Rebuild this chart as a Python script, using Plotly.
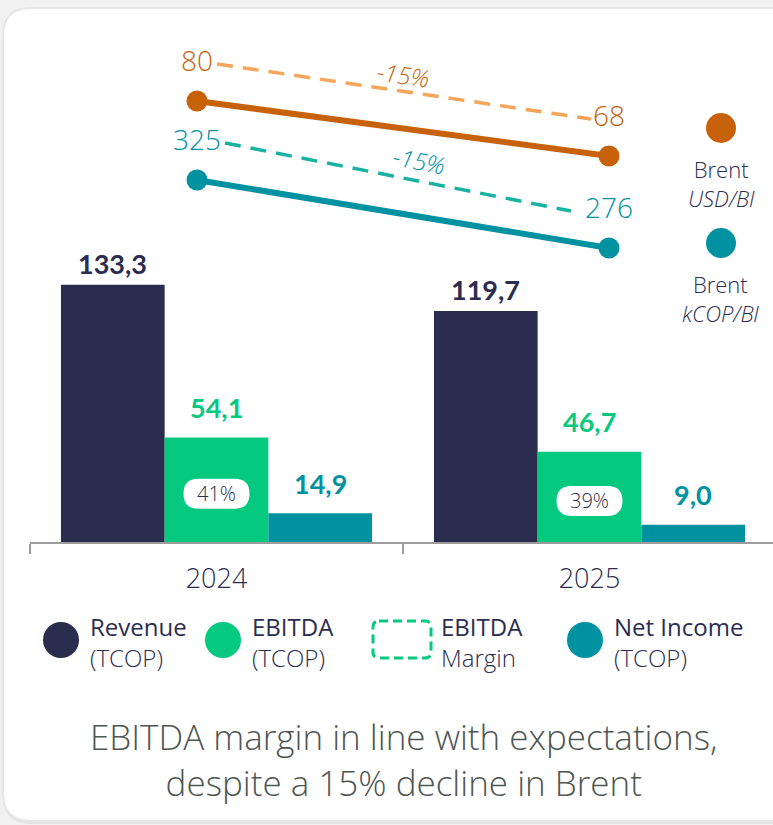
import math
import plotly.graph_objects as go

# ---- data ----
years = ['2024', '2025']
revenue = [133.3, 119.7]
ebitda = [54.1, 46.7]
net_income = [14.9, 9.0]
brent_usd = [80, 68]
brent_kcop = [325, 276]

W, H = 773, 825
NAVY = '#2b2d4f'
GREEN = '#04c97f'
TEAL = '#0192a1'
ORANGE = '#c8620a'
ORANGE_LIGHT = '#f6a55b'
TEAL_LIGHT = '#17b2a0'
GREY_TXT = '#4e5652'
FONT = 'Lato'
FONT_L = 'Open Sans'


def fx(px):
    return px / W


def fy(py):
    return 1 - py / H


def lin_range(v0, p0, v1, p1, pa, pb):
    k = (v1 - v0) / (p1 - p0)
    return [v0 + (pa - p0) * k, v0 + (pb - p0) * k]


def fmt(v):
    return '{:.1f}'.format(v).replace('.', ',')


def rrect(x0, y0, x1, y1, r):
    # rounded rect path, pixel coords in, paper coords out
    pts = [('M', [(x0 + r, y0)]), ('L', [(x1 - r, y0)]), ('Q', [(x1, y0), (x1, y0 + r)]),
           ('L', [(x1, y1 - r)]), ('Q', [(x1, y1), (x1 - r, y1)]), ('L', [(x0 + r, y1)]),
           ('Q', [(x0, y1), (x0, y1 - r)]), ('L', [(x0, y0 + r)]), ('Q', [(x0, y0), (x0 + r, y0)])]
    s = ''
    for cmd, ps in pts:
        s += cmd + ' ' + ' '.join('{:.5f},{:.5f}'.format(fx(a), fy(b)) for a, b in ps) + ' '
    return s + 'Z'


# ---- geometry (pixels) ----
CAT_PX = 373
BASE_PX = 542
BAR_TOP_PX = 230
PX_PER_UNIT = 1.93
BAR_PX = CAT_PX * (1 - 0.166) / 3

LX = (197, 609)          # line x positions for the two years
USD_PX = (101, 156)
COP_PX = (180, 248)
LBL_OFF = 37             # px above solid line for value labels / dashed line

fig = go.Figure()

series = [('Revenue', revenue, NAVY, 21), ('EBITDA', ebitda, GREEN, 30),
          ('Net Income', net_income, TEAL, 30)]
for name, vals, col, _ in series:
    fig.add_trace(go.Bar(name=name, x=years, y=vals, marker=dict(color=col, line=dict(width=0)),
                         showlegend=False, hoverinfo='skip'))

annotations = []
shapes = []

# bar value labels (category axis -> use index positions)
for i, (name, vals, col, ysh) in enumerate(series):
    for j, v in enumerate(vals):
        annotations.append(dict(x=j, y=v, xref='x', yref='y', text='<b>' + fmt(v) + '</b>',
                                showarrow=False, xshift=(i - 1) * BAR_PX, yshift=ysh,
                                xanchor='center', yanchor='middle',
                                font=dict(family=FONT, size=27, color=col)))

# EBITDA margin badges
for j, (e, r) in enumerate(zip(ebitda, revenue)):
    margin = round(e / r * 100)
    shapes.append(dict(type='path', xref='x', yref='y', xsizemode='pixel', ysizemode='pixel',
                       xanchor=j, yanchor=e / 2,
                       path='M -18,-19 L 18,-19 Q 33,-19 33,-4 Q 33,11 18,11 L -18,11 '
                            'Q -33,11 -33,-4 Q -33,-19 -18,-19 Z',
                       fillcolor='white', line=dict(width=0)))
    annotations.append(dict(x=j, y=e / 2, xref='x', yref='y', text='{}%'.format(margin),
                            showarrow=False, yshift=-4, xanchor='center', yanchor='middle',
                            font=dict(family=FONT_L, size=20, color=NAVY, weight=300)))

# Brent lines
xi = list(range(len(years)))
usd_k = (brent_usd[1] - brent_usd[0]) / (USD_PX[1] - USD_PX[0])
cop_k = (brent_kcop[1] - brent_kcop[0]) / (COP_PX[1] - COP_PX[0])
x_k = 1 / (LX[1] - LX[0])

brent = [(brent_usd, 'y2', ORANGE, ORANGE_LIGHT, usd_k, (20, 18), 0.0),
         (brent_kcop, 'y3', TEAL, TEAL_LIGHT, cop_k, (28, 38), 0.04)]
for vals, yax, col, lcol, k, gaps, dxl in brent:
    off = -LBL_OFF * k
    fig.add_trace(go.Scatter(x=xi, y=vals, xaxis='x2', yaxis=yax, mode='lines+markers',
                             line=dict(color=col, width=6), marker=dict(size=21, color=col),
                             showlegend=False, hoverinfo='skip'))
    fig.add_trace(go.Scatter(x=[xi[0] + gaps[0] * x_k, xi[1] - gaps[1] * x_k],
                             y=[v + off for v in vals], xaxis='x2', yaxis=yax, mode='lines',
                             line=dict(color=lcol, width=3.5, dash='16px,10px'),
                             showlegend=False, hoverinfo='skip'))
    fig.add_trace(go.Scatter(x=xi, y=[v + off for v in vals], xaxis='x2', yaxis=yax,
                             mode='text', text=[str(v) for v in vals],
                             textfont=dict(family=FONT_L, size=28, color=col, weight=300),
                             showlegend=False, hoverinfo='skip'))
    chg = round((vals[1] / vals[0] - 1) * 100)
    dx = (1 - (gaps[0] + gaps[1]) * x_k) / x_k
    dy = (vals[1] - vals[0]) / k
    ang = math.degrees(math.atan2(dy, dx))
    annotations.append(dict(x=0.5 + dxl, y=(vals[0] + vals[1]) / 2 + off,
                            xref='x2', yref=yax, text='<i>{}%</i>'.format(chg), showarrow=False,
                            yshift=17, textangle=ang, xanchor='center', yanchor='middle',
                            font=dict(family=FONT_L, size=24, color=col, weight=300)))

# right-side Brent legend
for cy, col, unit in [(128, ORANGE, 'USD/Bl'), (243, TEAL, 'kCOP/Bl')]:
    shapes.append(dict(type='circle', xref='paper', yref='paper', x0=fx(706), x1=fx(736),
                       y0=fy(cy + 15), y1=fy(cy - 15), fillcolor=col, line=dict(width=0)))
    annotations.append(dict(x=fx(721), y=fy(cy + 55), xref='paper', yref='paper',
                            xanchor='center', yanchor='middle',
                            text='Brent<br><i>' + unit + '</i>', showarrow=False,
                            font=dict(family=FONT_L, size=22, color=NAVY, weight=300)))

# bottom legend
LEG_Y = 640
for cx, col, lbl in [(61, NAVY, 'Revenue'), (223, GREEN, 'EBITDA'), (585, TEAL, 'Net Income')]:
    shapes.append(dict(type='circle', xref='paper', yref='paper', x0=fx(cx - 18), x1=fx(cx + 18),
                       y0=fy(LEG_Y + 18), y1=fy(LEG_Y - 18), fillcolor=col, line=dict(width=0)))
    annotations.append(dict(x=fx(cx + 27), y=fy(LEG_Y + 2), xref='paper', yref='paper',
                            xanchor='left', yanchor='middle', align='left',
                            text='<span style="font-weight:500">' + lbl + '</span><br>(TCOP)',
                            showarrow=False, font=dict(family=FONT_L, size=24, color=NAVY, weight=300)))
shapes.append(dict(type='path', xref='paper', yref='paper', path=rrect(373, 621, 431, 658, 6),
                   line=dict(color=GREEN, width=3, dash='9px,5px'), fillcolor='rgba(0,0,0,0)'))
annotations.append(dict(x=fx(439), y=fy(LEG_Y + 2), xref='paper', yref='paper',
                        xanchor='left', yanchor='middle', align='left',
                        text='<span style="font-weight:500">EBITDA</span><br>Margin',
                        showarrow=False, font=dict(family=FONT_L, size=24, color=NAVY, weight=300)))

# caption
annotations.append(dict(x=fx(404), y=fy(759), xref='paper', yref='paper',
                        xanchor='center', yanchor='middle',
                        text='EBITDA margin in line with expectations,<br>despite a 15% decline in Brent',
                        showarrow=False, font=dict(family=FONT_L, size=35, color=GREY_TXT, weight=300)))

# card
shapes.insert(0, dict(type='path', xref='paper', yref='paper', layer='below',
                      path=rrect(3, 10, 800, 824, 28), fillcolor='#e4e4e4', line=dict(width=0)))
shapes.insert(1, dict(type='path', xref='paper', yref='paper', layer='below',
                      path=rrect(3, 8, 800, 821, 28), fillcolor='white',
                      line=dict(color='#e6e6e6', width=2)))

fig.update_layout(
    width=W, height=H, margin=dict(l=0, r=0, t=0, b=0),
    paper_bgcolor='#f1f1f1', plot_bgcolor='rgba(0,0,0,0)',
    barmode='group', bargap=0.166, bargroupgap=0,
    showlegend=False, shapes=shapes, annotations=annotations,
    xaxis=dict(type='category', domain=[fx(30), 1], range=[-0.5, -0.5 + (W - 30) / CAT_PX],
               showline=True, linecolor='#9c9c9c', linewidth=1.5, ticks='outside',
               tickson='boundaries', ticklen=10, tickwidth=1.5, tickcolor='#9c9c9c',
               showgrid=False, zeroline=False, ticklabelstandoff=12,
               tickfont=dict(family=FONT_L, size=27, color=NAVY, weight=300)),
    yaxis=dict(domain=[fy(BASE_PX), fy(BAR_TOP_PX)], range=[0, (BASE_PX - BAR_TOP_PX) / PX_PER_UNIT],
               visible=False, showgrid=False, zeroline=False),
    xaxis2=dict(domain=[0, 1], anchor='y2', visible=False, range=lin_range(0, LX[0], 1, LX[1], 0, W)),
    yaxis2=dict(domain=[0, 1], anchor='x2', visible=False,
                range=lin_range(brent_usd[0], USD_PX[0], brent_usd[1], USD_PX[1], H, 0)),
    yaxis3=dict(domain=[0, 1], anchor='x2', overlaying='y2', visible=False,
                range=lin_range(brent_kcop[0], COP_PX[0], brent_kcop[1], COP_PX[1], H, 0)),
)

fig.write_html('out.html', config={'displayModeBar': False},
               post_script="document.body.style.margin='0';document.body.style.overflow='hidden';")
